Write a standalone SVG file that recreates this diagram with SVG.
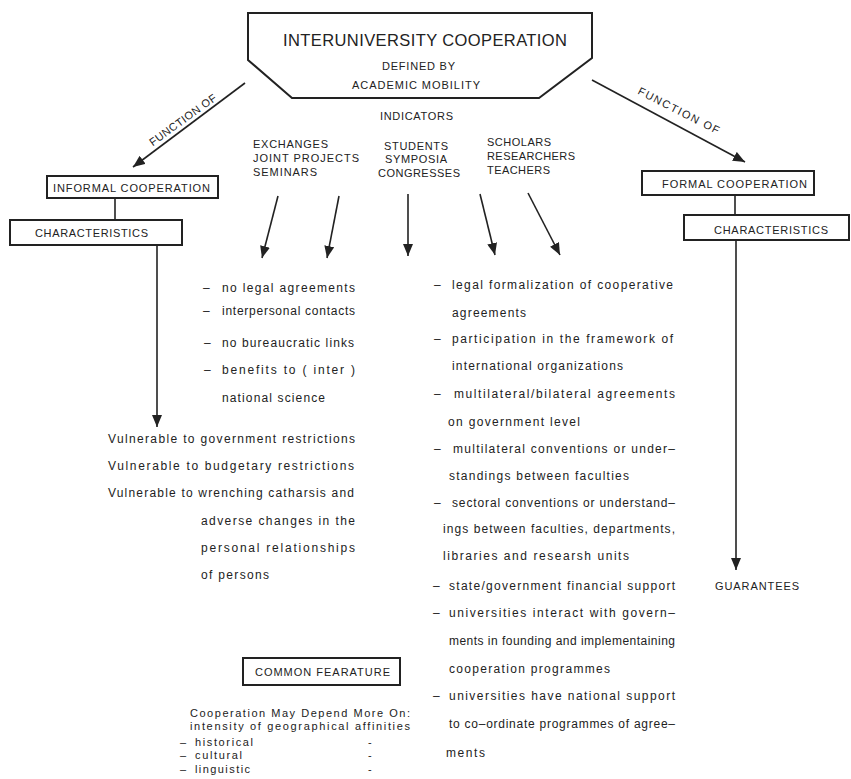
<svg xmlns="http://www.w3.org/2000/svg" width="851" height="779" viewBox="0 0 851 779">
<defs>
<style>
text{font-family:"Liberation Sans",Arial,sans-serif;fill:#222;}
.cap{font-size:11px;}
.ttl{font-size:16.5px;}
.lc{font-size:12px;}
.sm{font-size:11px;}
.box{fill:none;stroke:#222;stroke-width:2;}
.ln{fill:none;stroke:#222;stroke-width:1.6;}
</style>
<marker id="ah" viewBox="0 0 12 10" refX="12" refY="5" markerWidth="12" markerHeight="10" orient="auto" markerUnits="userSpaceOnUse"><path d="M0,0 L12,5 L0,10 Z" fill="#222"/></marker>
</defs>
<rect width="851" height="779" fill="#fff"/>

<g id="top">
<path class="box" d="M248,13 L592,13 L592,58 L539,98 L292,98 L248,60 Z"/>
<text class="ttl" x="283" y="46" textLength="284" lengthAdjust="spacing">INTERUNIVERSITY COOPERATION</text>
<text class="cap" x="382" y="70" textLength="73" lengthAdjust="spacing">DEFINED BY</text>
<text class="cap" x="352" y="89" textLength="128" lengthAdjust="spacing">ACADEMIC MOBILITY</text>
</g>

<g id="indicators">
<text class="cap" x="380" y="120" textLength="73" lengthAdjust="spacing">INDICATORS</text>
<text class="cap" x="253" y="148" textLength="75" lengthAdjust="spacing">EXCHANGES</text>
<text class="cap" x="253" y="162" textLength="106" lengthAdjust="spacing">JOINT PROJECTS</text>
<text class="cap" x="253" y="176" textLength="64" lengthAdjust="spacing">SEMINARS</text>
<text class="cap" x="384" y="150" textLength="64" lengthAdjust="spacing">STUDENTS</text>
<text class="cap" x="385" y="163" textLength="62" lengthAdjust="spacing">SYMPOSIA</text>
<text class="cap" x="378" y="177" textLength="82" lengthAdjust="spacing">CONGRESSES</text>
<text class="cap" x="487" y="146" textLength="64" lengthAdjust="spacing">SCHOLARS</text>
<text class="cap" x="487" y="160" textLength="88" lengthAdjust="spacing">RESEARCHERS</text>
<text class="cap" x="487" y="174" textLength="63" lengthAdjust="spacing">TEACHERS</text>
</g>

<g id="informal">
<rect class="box" x="47" y="176" width="171" height="22"/>
<text class="cap" x="53" y="192" textLength="157" lengthAdjust="spacing">INFORMAL COOPERATION</text>
</g>
<g id="informal-char">
<rect class="box" x="10" y="220" width="172" height="25"/>
<text class="cap" x="35" y="237" textLength="113" lengthAdjust="spacing">CHARACTERISTICS</text>
</g>

<g id="formal">
<rect class="box" x="642" y="171" width="172" height="24"/>
<text class="cap" x="662" y="188" textLength="145" lengthAdjust="spacing">FORMAL COOPERATION</text>
</g>
<g id="formal-char">
<rect class="box" x="684" y="215" width="165" height="25"/>
<text class="cap" x="714" y="234" textLength="114" lengthAdjust="spacing">CHARACTERISTICS</text>
</g>

<g id="connectors">
<line class="ln" x1="245" y1="83" x2="133" y2="167" marker-end="url(#ah)"/>
<line class="ln" x1="592" y1="80" x2="745" y2="162" marker-end="url(#ah)"/>
<line class="ln" x1="115" y1="198" x2="115" y2="220"/>
<line class="ln" x1="735" y1="195" x2="735" y2="215"/>
<line class="ln" x1="157" y1="245" x2="157" y2="427" marker-end="url(#ah)"/>
<line class="ln" x1="736" y1="240" x2="736" y2="570" marker-end="url(#ah)"/>
<line class="ln" x1="278" y1="196" x2="262" y2="258" marker-end="url(#ah)"/>
<line class="ln" x1="339" y1="196" x2="327" y2="258" marker-end="url(#ah)"/>
<line class="ln" x1="408" y1="194" x2="408" y2="256" marker-end="url(#ah)"/>
<line class="ln" x1="480" y1="194" x2="495" y2="255" marker-end="url(#ah)"/>
<line class="ln" x1="528" y1="193" x2="560" y2="255" marker-end="url(#ah)"/>
</g>

<g id="function-labels">
<text class="cap" transform="translate(185,123) rotate(-36)" text-anchor="middle" textLength="80" lengthAdjust="spacing">FUNCTION OF</text>
<text class="cap" transform="translate(677,114) rotate(27)" text-anchor="middle" textLength="90" lengthAdjust="spacing">FUNCTION OF</text>
</g>

<g id="informal-list" class="lc">
<text class="lc" x="203" y="292">–</text><text class="lc" x="222" y="292" textLength="133" lengthAdjust="spacing">no legal agreements</text>
<text class="lc" x="203" y="315">–</text><text class="lc" x="222" y="315" textLength="133" lengthAdjust="spacing">interpersonal contacts</text>
<text class="lc" x="204" y="347">–</text><text class="lc" x="222" y="347" textLength="132" lengthAdjust="spacing">no bureaucratic links</text>
<text class="lc" x="204" y="374">–</text><text class="lc" x="222" y="374" textLength="133" lengthAdjust="spacing">benefits to ( inter )</text>
<text class="lc" x="222" y="402" textLength="103" lengthAdjust="spacing">national science</text>
</g>

<g id="vulnerable">
<text class="lc" x="108" y="443" textLength="247" lengthAdjust="spacing">Vulnerable to government restrictions</text>
<text class="lc" x="108" y="470" textLength="246" lengthAdjust="spacing">Vulnerable to budgetary restrictions</text>
<text class="lc" x="108" y="497" textLength="246" lengthAdjust="spacing">Vulnerable to wrenching catharsis and</text>
<text class="lc" x="201" y="525" textLength="154" lengthAdjust="spacing">adverse changes in the</text>
<text class="lc" x="201" y="552" textLength="154" lengthAdjust="spacing">personal relationships</text>
<text class="lc" x="201" y="579" textLength="68" lengthAdjust="spacing">of persons</text>
</g>

<g id="formal-list">
<text class="lc" x="434" y="289">–</text><text class="lc" x="452" y="289" textLength="221" lengthAdjust="spacing">legal formalization of cooperative</text>
<text class="lc" x="452" y="317" textLength="74" lengthAdjust="spacing">agreements</text>
<text class="lc" x="434" y="343">–</text><text class="lc" x="452" y="343" textLength="221" lengthAdjust="spacing">participation in the framework of</text>
<text class="lc" x="452" y="370" textLength="171" lengthAdjust="spacing">international organizations</text>
<text class="lc" x="434" y="398">–</text><text class="lc" x="454" y="398" textLength="221" lengthAdjust="spacing">multilateral/bilateral agreements</text>
<text class="lc" x="448" y="426" textLength="132" lengthAdjust="spacing">on government level</text>
<text class="lc" x="434" y="453">–</text><text class="lc" x="453" y="453" textLength="222" lengthAdjust="spacing">multilateral conventions or under–</text>
<text class="lc" x="449" y="480" textLength="180" lengthAdjust="spacing">standings between faculties</text>
<text class="lc" x="434" y="507">–</text><text class="lc" x="452" y="507" textLength="223" lengthAdjust="spacing">sectoral conventions or understand–</text>
<text class="lc" x="443" y="533" textLength="232" lengthAdjust="spacing">ings between faculties, departments,</text>
<text class="lc" x="443" y="560" textLength="186" lengthAdjust="spacing">libraries and researsh units</text>
<text class="lc" x="433" y="590">–</text><text class="lc" x="449" y="590" textLength="226" lengthAdjust="spacing">state/government financial support</text>
<text class="lc" x="433" y="617">–</text><text class="lc" x="449" y="617" textLength="226" lengthAdjust="spacing">universities interact with govern–</text>
<text class="lc" x="449" y="645" textLength="226" lengthAdjust="spacing">ments in founding and implementaining</text>
<text class="lc" x="449" y="673" textLength="161" lengthAdjust="spacing">cooperation programmes</text>
<text class="lc" x="433" y="700">–</text><text class="lc" x="449" y="700" textLength="226" lengthAdjust="spacing">universities have national support</text>
<text class="lc" x="449" y="728" textLength="226" lengthAdjust="spacing">to co–ordinate programmes of agree–</text>
<text class="lc" x="446" y="757" textLength="39" lengthAdjust="spacing">ments</text>
</g>

<g id="guarantees">
<text class="cap" x="715" y="590" textLength="84" lengthAdjust="spacing">GUARANTEES</text>
</g>

<g id="common">
<rect class="box" x="243" y="658" width="157" height="27"/>
<text class="cap" x="255" y="676" textLength="135" lengthAdjust="spacing">COMMON FEARATURE</text>
</g>

<g id="common-list">
<text class="sm" x="190" y="717" textLength="220" lengthAdjust="spacing">Cooperation May Depend More On:</text>
<text class="sm" x="190" y="730" textLength="220" lengthAdjust="spacing">intensity of geographical affinities</text>
<text class="sm" x="180" y="746">–</text><text class="sm" x="195" y="746" textLength="58" lengthAdjust="spacing">historical</text>
<text class="sm" x="180" y="759">–</text><text class="sm" x="195" y="759" textLength="47" lengthAdjust="spacing">cultural</text>
<text class="sm" x="180" y="773">–</text><text class="sm" x="195" y="773" textLength="55" lengthAdjust="spacing">linguistic</text>
<text class="sm" x="368" y="746">-</text>
<text class="sm" x="368" y="759">-</text>
<text class="sm" x="368" y="773">-</text>
</g>
</svg>
